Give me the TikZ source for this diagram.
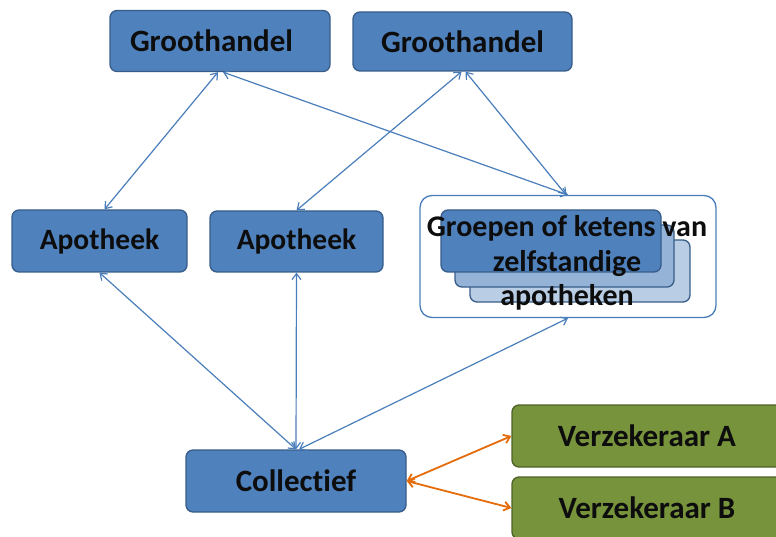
\documentclass[tikz,border=0pt]{standalone}
\usepackage{fontspec}
\setmainfont{Carlito}[Ligatures=NoCommon]
\usetikzlibrary{arrows.meta}
\definecolor{bfill}{HTML}{4F81BD}
\definecolor{bdraw}{HTML}{385D8A}
\definecolor{gfill}{HTML}{77933C}
\definecolor{gdraw}{HTML}{4F6228}
\definecolor{mfill}{HTML}{95B3D7}
\definecolor{lfill}{HTML}{B9CDE5}
\definecolor{arrblue}{HTML}{4A7EBB}
\definecolor{arrorange}{HTML}{E46C0A}
\definecolor{txt}{HTML}{0D0D0D}
\begin{document}
\begin{tikzpicture}[x=1pt,y=-1pt,
  box/.style={draw=bdraw,fill=bfill,line width=1.3pt,rounded corners=7pt,
    minimum width=#1,minimum height=61pt,inner sep=0pt,text=txt,
    font=\fontsize{31}{34}\selectfont\bfseries},
  gbox/.style={box=#1,draw=gdraw,fill=gfill},
  link/.style={draw=arrblue,line width=1.2pt,{Straight Barb[length=6pt,width=9pt]}-{Straight Barb[length=6pt,width=9pt]}},
  olink/.style={draw=arrorange,line width=1.8pt,{Straight Barb[length=6pt,width=9pt]}-{Straight Barb[length=6pt,width=9pt]}}
]
\useasboundingbox (0,0) rectangle (776,537);
\node[box=220pt,text width=180pt,align=left] (g1) at (220,41) {Groothandel};
\node[box=219pt,minimum height=59pt] (g2) at (462.5,41.5) {Groothandel};
\node[box=175pt,minimum height=62pt,font=\fontsize{29.5}{34}\selectfont\bfseries] (a1) at (99.5,241) {Apotheek};
\node[box=173pt,font=\fontsize{29.5}{34}\selectfont\bfseries] (a2) at (296.5,241.5) {Apotheek};
\node[draw=arrblue,fill=white,line width=1.3pt,rounded corners=12pt,minimum width=296pt,minimum height=122pt] (grp) at (568,256.5) {};
\node[box=220pt,minimum height=62pt,fill=lfill] (s3) at (580,271) {};
\node[box=219pt,minimum height=62pt,fill=mfill] (s2) at (564.5,256) {};
\node[box=220pt,minimum height=62pt] (s1) at (551,241) {};
\node[font=\fontsize{30}{34.5}\selectfont\bfseries,text=txt,align=center,inner sep=0pt] (gt) at (567,263) {Groepen of ketens van\\zelfstandige\\apotheken};
\node[box=220pt,minimum height=62pt] (col) at (296,481) {Collectief};
\node[gbox=270pt,minimum height=62pt] (va) at (647,436) {Verzekeraar A};
\node[gbox=270pt,minimum height=62pt] (vb) at (647,508) {Verzekeraar B};
\draw[link] ([xshift=-2pt]g1.south) -- ([xshift=5pt]a1.north);
\draw[link] ([xshift=3pt]g1.south) -- (grp.north);
\draw[link] ([xshift=-1pt]g2.south) -- (a2.north);
\draw[link] ([xshift=3pt]g2.south) -- ([xshift=-2pt]grp.north);
\draw[link] (col.north) -- (a1.south);
\draw[link] (col.north) -- (a2.south);
\draw[link] ([xshift=3pt]col.north) -- (grp.south);
\draw[olink] (col.east) -- (va.west);
\draw[olink] (col.east) -- (vb.west);
\end{tikzpicture}
\end{document}
